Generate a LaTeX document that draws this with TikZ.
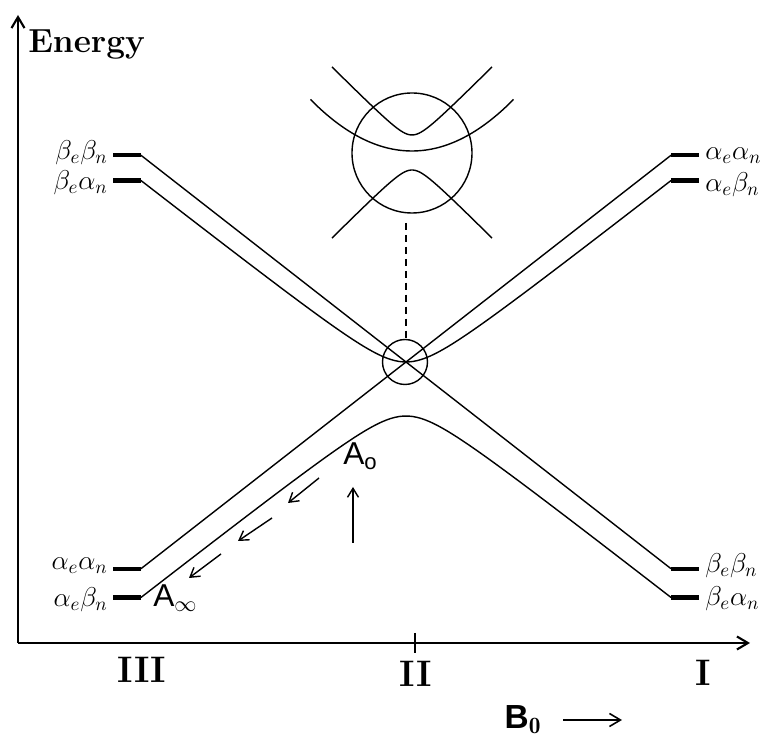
\documentclass[tikz,border=0pt]{standalone}
\usepackage{fix-cm}
\usepackage{amsmath,amssymb}
\usepackage{fontspec}
\setsansfont{Liberation Sans}
\usetikzlibrary{arrows.meta}
\tikzset{
  curve/.style={line width=0.8pt},
  level/.style={line width=2.4pt},
  axis/.style={line width=1.2pt, -{Straight Barb[length=2.2mm,width=2.6mm]}},
  arrow/.style={line width=0.8pt, -{Straight Barb[length=1.8mm,width=2.2mm]}},
  spin/.style={font=\fontsize{15.5}{18}\selectfont, inner sep=0pt},
  roman/.style={font=\fontsize{21}{24}\selectfont\bfseries, inner sep=0pt},
  alab/.style={font=\fontsize{18}{20}\selectfont\sffamily, inner sep=0pt}
}

\begin{document}
\begin{tikzpicture}[x=0.2cm, y=-0.2cm]
  \useasboundingbox (0,0) rectangle (76.4,74.2);
  % axes
  \coordinate (o) at (1.8,64.3);
  \coordinate (ytop) at (1.8,1.5);
  \coordinate (xend) at (75.0,64.3);
  \draw[axis] (o) -- (ytop);
  \draw[axis] (o) -- (xend);
  \draw[line width=1pt] (41.5,63.3) -- (41.5,65.3);
  \node[font=\fontsize{19}{22}\selectfont\bfseries, anchor=base west, inner sep=0pt] (energy) at (2.8,5.3) {Energy};
  \node[roman] (r3) at (14.2,67.0) {III};
  \node[roman] (r2) at (41.6,67.4) {II};
  \node[roman] (r1) at (70.3,67.3) {I};
  \node[font=\fontsize{19}{22}\selectfont\sffamily\bfseries, inner sep=0pt] (b0) at (52.3,72.0) {B$_{\mathbf{0}}$};
  \coordinate (b0a) at (56.3,72.0);
  \coordinate (b0b) at (62.2,72.0);
  \draw[axis, line width=0.9pt] (b0a) -- (b0b);

  % level ends
  \coordinate (bbL) at (14.1,15.53);
  \coordinate (baL) at (14.1,18.05);
  \coordinate (aaL) at (14.1,56.87);
  \coordinate (abL) at (14.1,59.75);
  \coordinate (aaR) at (67.1,15.53);
  \coordinate (abR) at (67.1,18.05);
  \coordinate (bbR) at (67.1,56.87);
  \coordinate (baR) at (67.1,59.75);
  \foreach \p in {bbL,baL,aaL,abL} \draw[level] (\p) -- ++(-2.8,0);
  \foreach \p in {aaR,abR,bbR,baR} \draw[level] (\p) -- ++(2.8,0);

  % spin labels
  \node[spin, anchor=east] (lbb) at (10.8,15.3) {$\beta_e\beta_n$};
  \node[spin, anchor=east] (lba) at (10.8,18.3) {$\beta_e\alpha_n$};
  \node[spin, anchor=east] (laa) at (10.8,56.6) {$\alpha_e\alpha_n$};
  \node[spin, anchor=east] (lab) at (10.8,60.0) {$\alpha_e\beta_n$};
  \node[spin, anchor=west] (raa) at (70.5,15.6) {$\alpha_e\alpha_n$};
  \node[spin, anchor=west] (rab) at (70.5,18.5) {$\alpha_e\beta_n$};
  \node[spin, anchor=west] (rbb) at (70.5,56.6) {$\beta_e\beta_n$};
  \node[spin, anchor=west] (rba) at (70.5,59.9) {$\beta_e\alpha_n$};

  % crossing levels
  \draw[curve] (bbL) -- (bbR);
  \draw[curve] (aaL) -- (aaR);
  \draw[curve] plot[domain=14.1:67.1, samples=120] (\x, {38.9-sqrt((0.78*(\x-40.6))^2+2.7^2)});
  \draw[curve] plot[domain=14.1:67.1, samples=120] (\x, {38.9+sqrt((0.78*(\x-40.6))^2+2.7^2)});

  % crossing region and magnified view
  \coordinate (cx) at (40.5,36.2);
  \draw[curve] (cx) circle[radius=0.45cm];
  \coordinate (mag) at (41.2,15.3);
  \draw[curve] (mag) circle[radius=1.2cm];
  \draw[curve] plot[domain=33.2:49.2, samples=80] (\x, {14.8-sqrt((\x-41.2)^2+1.3^2)});
  \draw[curve] plot[domain=31.05:51.35, samples=80] (\x, {15.1-0.05*(\x-41.2)^2});
  \draw[curve] plot[domain=33.2:49.2, samples=80] (\x, {15.7+sqrt((\x-41.2)^2+1.3^2)});
  \coordinate (dtop) at (40.6,22.3);
  \coordinate (dbot) at (40.6,33.95);
  \draw[curve, dash pattern=on 4pt off 2.8pt] (dtop) -- (dbot);

  % A labels and arrows
  \node[alab, anchor=base west] (a0) at (34.3,46.5) {A$_{\mathsf{o}}$};
  \node[alab, anchor=base west] (ainf) at (15.3,60.7) {A$_{\infty}$};
  \coordinate (a0t) at (35.3,54.3);
  \coordinate (a0h) at (35.3,48.7);
  \draw[arrow] (a0t) -- (a0h);
  \coordinate (d1a) at (31.9,47.8);
  \coordinate (d1b) at (28.8,50.3);
  \coordinate (d2a) at (27.2,51.8);
  \coordinate (d2b) at (23.8,54.1);
  \coordinate (d3a) at (22.1,55.4);
  \coordinate (d3b) at (18.9,57.8);
  \draw[arrow] (d1a) -- (d1b);
  \draw[arrow] (d2a) -- (d2b);
  \draw[arrow] (d3a) -- (d3b);
\end{tikzpicture}
\end{document}
